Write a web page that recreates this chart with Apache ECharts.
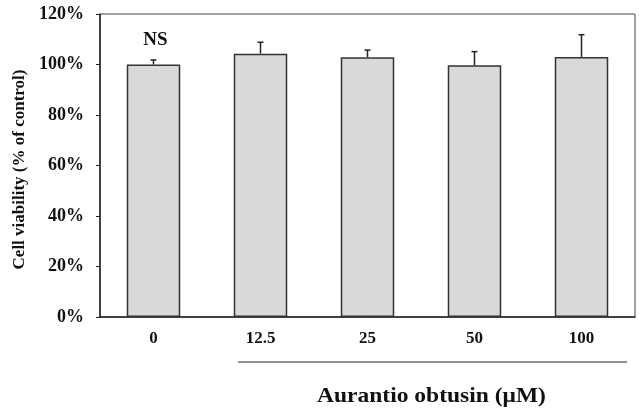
<!DOCTYPE html>
<html><head><meta charset="utf-8">
<script src="https://cdn.jsdelivr.net/npm/echarts@6/dist/echarts.min.js"></script>
<style>html,body{margin:0;padding:0;background:#fff}#c{width:639px;height:408px}</style>
</head><body><div id="c"></div>
<script>
var categories = ['0', '12.5', '25', '50', '100'];
var viability = [100.0, 104.3, 102.9, 99.7, 103.0];
var errorUp = [1.8, 4.5, 2.8, 5.4, 8.8];
var annotations = ['NS', '', '', '', ''];
var yTicks = [0, 20, 40, 60, 80, 100, 120];

var serif = '"Liberation Serif", "Times New Roman", serif';
var chart = echarts.init(document.getElementById('c'));
var errData = categories.map(function (c, i) { return [i, viability[i], viability[i] + errorUp[i], annotations[i]]; });

chart.setOption({
  animation: false,
  grid: { left: 100, right: 4, top: 14, bottom: 91, show: true, borderColor: '#444', borderWidth: 1 },
  xAxis: {
    type: 'category', data: categories,
    axisLine: { lineStyle: { color: '#222', width: 1.5 } },
    axisTick: { show: false },
    axisLabel: { color: '#111', fontFamily: serif, fontWeight: 'bold', fontSize: 17, margin: 13 }
  },
  yAxis: {
    type: 'value', min: yTicks[0], max: yTicks[yTicks.length - 1], interval: 20,
    name: 'Cell viability (% of control)', nameLocation: 'middle', nameRotate: 90, nameGap: 70,
    nameTextStyle: { color: '#111', fontFamily: serif, fontWeight: 'bold', fontSize: 17, padding: [0, 8, 0, 0] },
    axisLine: { show: true, lineStyle: { color: '#222', width: 1.5 } },
    axisTick: { show: true, inside: false, length: 4, lineStyle: { color: '#222' } },
    splitLine: { show: false },
    axisLabel: { color: '#111', fontFamily: serif, fontWeight: 'bold', fontSize: 18, margin: 16, formatter: '{value}%' }
  },
  series: [
    {
      type: 'bar', data: viability, barWidth: '50%',
      itemStyle: { color: '#d9d9d9', borderColor: '#333', borderWidth: 1.5 }
    },
    {
      type: 'custom', data: errData, z: 5,
      encode: { x: 0, y: [1, 2] },
      renderItem: function (params, api) {
        var x = api.value(0);
        var base = api.coord([x, api.value(1)]);
        var top = api.coord([x, api.value(2)]);
        var children = [
          { type: 'line', shape: { x1: base[0], y1: base[1], x2: top[0], y2: top[1] }, style: { stroke: '#222', lineWidth: 1.5 } },
          { type: 'line', shape: { x1: top[0] - 3, y1: top[1], x2: top[0] + 3, y2: top[1] }, style: { stroke: '#222', lineWidth: 1.5 } }
        ];
        var t = api.value(3);
        if (t) {
          children.push({ type: 'text', style: { text: t, x: top[0] + 2, y: top[1] - 20, align: 'center', verticalAlign: 'middle', fill: '#111', font: 'bold 19px ' + serif } });
        }
        return { type: 'group', children: children };
      }
    }
  ],
  graphic: [
    { type: 'line', shape: { x1: 238, y1: 362, x2: 627, y2: 362 }, style: { stroke: '#222', lineWidth: 1.2 } },
    { type: 'text', x: 317, y: 397, scaleX: 1.12, style: { text: 'Aurantio obtusin (μM)', verticalAlign: 'middle', fill: '#111', font: 'bold 21px ' + serif } }
  ]
});
</script></body></html>
